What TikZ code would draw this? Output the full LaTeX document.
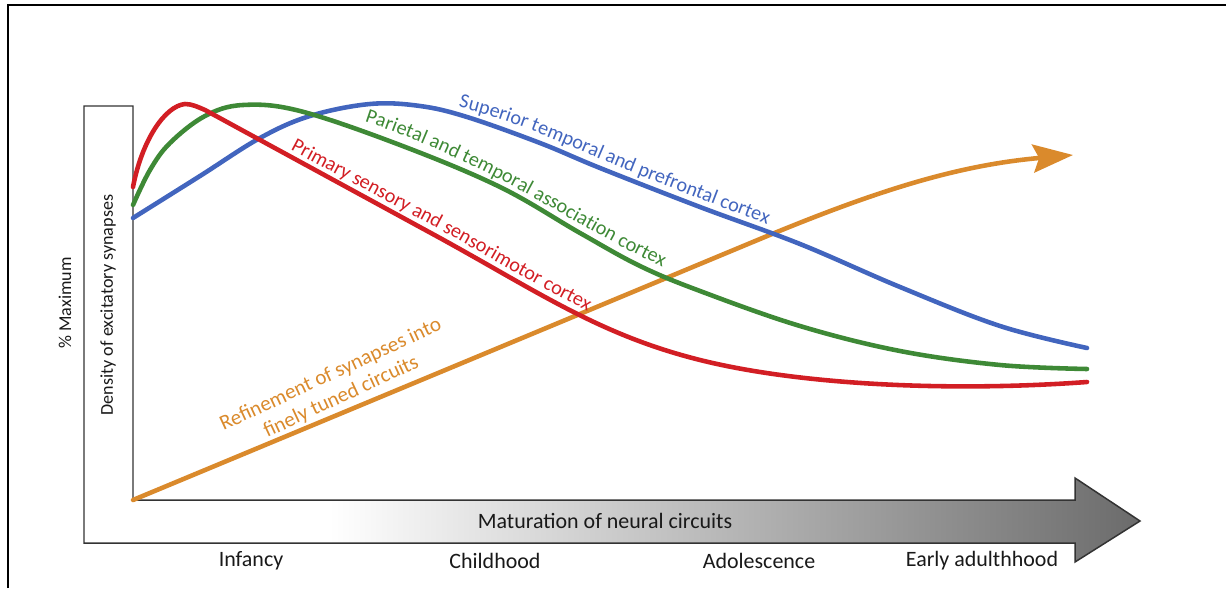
\documentclass[tikz,border=0pt]{standalone}
\usepackage{fontspec}
\setmainfont{Carlito}
\usepackage{tikz}
\usetikzlibrary{arrows.meta, decorations.text}
\definecolor{cortexblue}{RGB}{66,101,190}
\definecolor{cortexgreen}{RGB}{62,137,54}
\definecolor{cortexred}{RGB}{210,30,36}
\definecolor{refineorange}{RGB}{218,138,44}
\pgfdeclarehorizontalshading{timeline}{100bp}{color(0bp)=(white); color(36.6bp)=(white); color(75bp)=(black!58); color(100bp)=(black!58)}
\tikzset{>={Stealth[scale=1]},
  curve/.style={line width=2.6pt, line cap=round},
  cortextext/.style={decorate, decoration={text along path, text align=center, raise=4pt}},
  agelabel/.style={font=\fontsize{12.5}{14}\selectfont, text=black!90},
  densitylabel/.style={font=\fontsize{10.3}{12}\selectfont, rotate=90, text=black!90}
}

\begin{document}
\begin{tikzpicture}[x=0.02cm, y=-0.02cm]
  \useasboundingbox (0,0) rectangle (1226,588);
  \draw[line width=1.1pt] (8,588) -- (8,5) -- (1226,5);

  \shade[shading=timeline] (84,500) -- (1075,500) -- (1075,478) -- (1140,521) -- (1075,562) -- (1075,543) -- (84,543) -- cycle;
  \draw[black!80, line width=0.85pt] (84,106) -- (133,106) -- (133,500) -- (1075,500) -- (1075,478) -- (1140,521) -- (1075,562) -- (1075,543) -- (84,543) -- cycle;

  \coordinate (origin) at (133,500);
  \coordinate (bend) at (760,239);
  \coordinate (tip) at (1073,155);
  \draw[curve, refineorange, -{Stealth[length=0.8cm, width=0.56cm, inset=0.12cm]}] (origin) -- (bend) .. controls (880,189) and (960,165) .. (tip);

  \draw[curve, cortexblue] plot[smooth, tension=0.6] coordinates {(133,218) (200,176) (260,138) (310,116) (370,104) (420,106) (467,117) (540,143) (600,168) (700,207) (800,244) (900,287) (1000,326) (1087,348)};
  \draw[curve, cortexgreen] plot[smooth, tension=0.6] coordinates {(133,205) (150,170) (170,143) (205,116) (243,105) (300,111) (400,145) (500,187) (580,233) (640,266) (700,291) (800,326) (900,351) (1000,365) (1087,369)};
  \draw[curve, cortexred] (133,187) .. controls (142,140) and (165,106) .. (185,104) .. controls (192,104) and (198,107) .. (205,110) -- (440,238) .. controls (540,293) and (600,335) .. (700,360) .. controls (800,385) and (950,392) .. (1087,382);

  \path[cortextext, decoration={text color=cortexblue, text={|\fontsize{11.5}{13}\selectfont|Superior temporal and prefrontal cortex}}] (420,106) .. controls (500,120) and (560,150) .. (620,175) .. controls (690,203) and (740,222) .. (800,244);
  \path[cortextext, decoration={text color=cortexgreen, text={|\fontsize{11.5}{13}\selectfont|Parietal and temporal association cortex}}] (310,114) .. controls (380,129) and (455,163) .. (525,201) .. controls (600,243) and (640,268) .. (710,294);
  \path[cortextext, decoration={text color=cortexred, text align={left, left indent=24pt}, text={|\fontsize{11.5}{13}\selectfont|Primary sensory and sensorimotor cortex}}] (250,136) -- (440,238) .. controls (540,293) and (600,335) .. (700,360);
  \node[text=refineorange, rotate=25, align=center, font=\fontsize{12}{14}\selectfont] (refinelabel) at (336,386) {Refinement of synapses into\\finely tuned circuits};

  \node[densitylabel] (maxlabel) at (65,303) {\% Maximum};
  \node[densitylabel] (densitylabel) at (108,305) {Density of excitatory synapses};
  \node[agelabel] (maturation) at (605,521) {Maturation of neural circuits};
  \node[agelabel] (infancy) at (251,561) {Infancy};
  \node[agelabel] (childhood) at (495,561) {Childhood};
  \node[agelabel] (adolescence) at (759,561) {Adolescence};
  \node[agelabel] (adulthood) at (982,561) {Early adulthhood};
\end{tikzpicture}
\end{document}
